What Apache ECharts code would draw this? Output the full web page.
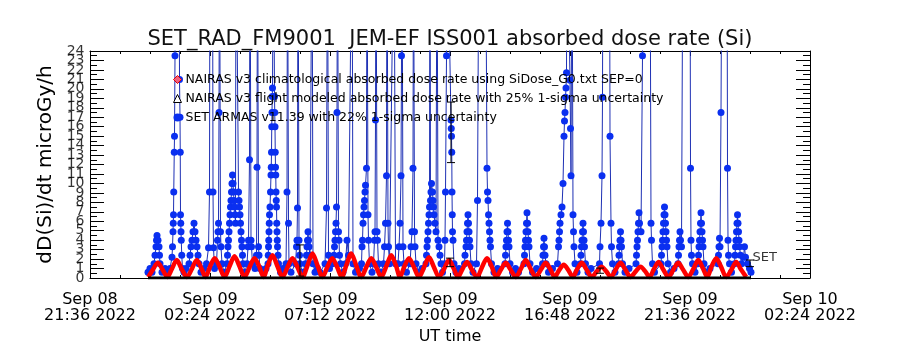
<!DOCTYPE html>
<html><head><meta charset="utf-8">
<script src="https://cdn.jsdelivr.net/npm/echarts@6/dist/echarts.min.js"></script>
<style>html,body{margin:0;padding:0;background:#fff}#c{width:900px;height:350px}</style>
</head><body><div id="c"></div>
<script>
// x values: hours since 2022-09-08 21:36 UT
const xTickLabels = ['Sep 08\n21:36 2022','Sep 09\n02:24 2022','Sep 09\n07:12 2022','Sep 09\n12:00 2022','Sep 09\n16:48 2022','Sep 09\n21:36 2022','Sep 10\n02:24 2022'];
const xMin = 0, xMax = 28.8, xStep = 4.8;
const yMin = 0, yMax = 24, yStep = 1;
const yTickValues = [0,1,2,3,4,5,6,7,8,9,10,11,12,13,14,15,16,17,18,19,20,21,22,23,24];

const nameClim = 'NAIRAS v3 climatological absorbed dose rate using SiDose_G0.txt SEP=0';
const nameFlight = 'NAIRAS v3 flight modeled absorbed dose rate with 25% 1-sigma uncertainty';
const nameArmas = 'SET ARMAS v11.39 with 22% 1-sigma uncertainty';

const nairasClim = [
[2.33,0.1],[2.52,0.9],[2.71,1.6],[2.90,0.9],
[3.09,0.1],[3.28,1.0],[3.47,1.9],[3.66,1.0],
[3.88,0.1],[4.08,1.0],[4.27,1.9],[4.46,1.0],
[4.62,0.1],[4.80,1.2],[4.99,2.1],[5.18,1.2],
[5.38,0.1],[5.59,1.3],[5.78,2.3],[5.97,1.3],
[6.18,0.1],[6.39,1.2],[6.58,2.1],[6.77,1.2],
[6.94,0.1],[7.11,1.3],[7.30,2.4],[7.49,1.3],
[7.70,0.1],[7.91,1.2],[8.10,2.1],[8.29,1.2],
[8.50,0.1],[8.71,1.4],[8.90,2.6],[9.09,1.4],
[9.30,0.1],[9.50,1.2],[9.69,2.1],[9.88,1.2],
[10.07,0.1],[10.26,1.4],[10.45,2.6],[10.64,1.4],
[10.85,0.1],[11.06,1.2],[11.25,2.1],[11.44,1.2],
[11.65,0.1],[11.86,1.3],[12.05,2.4],[12.24,1.3],
[12.40,0.1],[12.57,1.2],[12.76,2.1],[12.95,1.2],
[13.16,0.1],[13.37,1.2],[13.56,2.2],[13.75,1.2],
[13.96,0.1],[14.17,1.0],[14.36,1.9],[14.55,1.0],
[14.72,0.1],[14.89,0.9],[15.08,1.7],[15.27,0.9],
[15.48,0.1],[15.69,1.2],[15.88,2.1],[16.07,1.2],
[16.25,0.1],[16.44,0.9],[16.63,1.6],[16.82,0.9],
[17.03,0.1],[17.24,1.0],[17.43,1.9],[17.62,1.0],
[17.83,0.1],[18.04,0.9],[18.23,1.6],[18.42,0.9],
[18.59,0.1],[18.76,0.8],[18.95,1.4],[19.14,0.8],
[19.31,0.1],[19.48,0.9],[19.67,1.6],[19.86,0.9],
[20.07,0.1],[20.27,0.7],[20.46,1.2],[20.65,0.7],
[20.84,0.1],[21.03,0.9],[21.22,1.6],[21.41,0.9],
[21.62,0.1],[21.83,0.7],[22.02,1.2],[22.21,0.7],
[22.38,0.1],[22.55,0.9],[22.74,1.7],[22.93,0.9],
[23.14,0.1],[23.34,0.9],[23.53,1.6],[23.72,0.9],
[23.93,0.1],[24.14,1.0],[24.33,1.9],[24.52,1.0],
[24.69,0.1],[24.86,1.2],[25.05,2.1],[25.24,1.2],
[25.45,0.1],[25.66,0.9],[25.85,1.7],[26.04,0.9],
[26.25,0.1]
];

const nairasFlight = [[2.32,0],[26.44,0]];

const armas = [
[2.32,0.6],[2.40,1.0],[2.48,0.6],
[2.56,1.5],[2.60,2.4],[2.64,3.3],[2.66,4.0],[2.68,4.5],[2.72,4.0],[2.76,3.3],[2.78,2.4],[2.80,1.5],[2.88,0.6],[3.00,1.0],[3.12,0.6],[3.20,1.0],
[3.28,2.2],[3.30,3.3],[3.32,4.9],[3.33,5.8],[3.34,6.7],[3.35,9.1],[3.37,13.3],[3.38,15.0],[3.40,23.5],[3.44,40],[3.56,40],[3.58,21.0],[3.60,17.0],[3.61,13.3],[3.62,6.7],[3.63,5.8],[3.64,4.9],[3.65,4.0],[3.67,2.4],[3.70,1.0],[3.76,0.6],[3.84,1.0],
[3.96,1.5],[4.00,2.4],[4.04,3.3],[4.08,4.0],[4.12,4.9],[4.16,5.8],[4.20,4.9],[4.24,4.0],[4.28,3.3],[4.32,2.4],[4.36,1.5],[4.44,0.6],[4.56,1.0],[4.66,1.5],
[4.74,3.2],[4.78,9.1],[4.80,40],[4.90,40],[4.92,9.1],[4.94,3.2],[4.98,1.0],
[5.06,1.5],[5.10,4.0],[5.12,4.9],[5.14,5.8],[5.16,17.5],[5.18,40],[5.22,4.9],[5.24,3.3],[5.28,1.5],[5.36,0.6],
[5.48,1.5],[5.50,2.4],[5.52,3.3],[5.54,4.0],[5.56,4.9],[5.58,5.8],[5.60,6.7],[5.62,7.5],[5.64,8.2],[5.66,9.1],[5.68,10.0],[5.70,10.9],[5.72,10.0],[5.74,9.1],[5.76,8.2],[5.78,7.5],[5.80,6.7],[5.82,5.8],[5.84,40],[5.92,40],[5.94,9.1],[5.96,8.2],[5.98,7.5],[6.00,6.7],[6.02,5.8],[6.04,4.9],[6.06,4.0],[6.08,3.3],[6.10,2.4],[6.12,1.5],[6.20,0.6],
[6.28,1.5],[6.32,3.3],[6.34,4.0],[6.38,12.5],[6.40,40],[6.44,4.0],[6.46,3.3],[6.50,1.5],[6.60,1.0],[6.66,2.4],[6.68,11.7],[6.70,40],[6.74,3.3],[6.76,2.4],[6.80,1.0],[6.92,0.6],[7.04,1.0],
[7.12,1.5],[7.13,2.4],[7.14,3.3],[7.15,4.0],[7.16,4.9],[7.17,5.8],[7.18,6.7],[7.20,7.5],[7.22,9.1],[7.24,10.9],[7.25,11.7],[7.26,13.3],[7.27,16.0],[7.28,17.5],[7.29,19.2],[7.30,20.1],[7.34,40],[7.38,19.2],[7.39,17.5],[7.40,16.0],[7.41,13.3],[7.42,11.7],[7.43,10.9],[7.44,9.1],[7.45,8.2],[7.46,7.5],[7.47,5.8],[7.48,4.9],[7.49,4.0],[7.50,3.3],[7.52,2.4],[7.54,1.5],[7.62,0.6],[7.72,1.0],
[7.84,1.5],[7.88,9.1],[7.90,40],[7.94,5.8],[7.96,1.5],[8.04,0.6],
[8.22,1.5],[8.26,3.3],[8.28,4.0],[8.30,7.4],[8.32,40],[8.36,4.0],[8.38,2.4],[8.40,1.5],[8.50,0.6],
[8.62,1.5],[8.66,2.4],[8.68,3.3],[8.70,4.0],[8.72,4.9],[8.74,4.0],[8.76,3.3],[8.80,2.4],[8.88,40],[8.92,1.5],[9.00,0.6],[9.10,1.0],[9.20,0.6],
[9.40,1.5],[9.46,7.4],[9.50,40],[9.54,2.4],[9.58,1.0],[9.70,1.5],
[9.76,2.4],[9.78,3.3],[9.80,4.0],[9.82,4.9],[9.84,5.8],[9.86,7.5],[9.88,17.5],[9.90,40],[9.94,4.9],[9.96,4.0],[9.98,2.4],[10.02,1.5],[10.12,0.6],[10.22,1.5],[10.28,4.0],[10.34,2.4],
[10.48,40],[10.52,1.5],[10.62,0.6],[10.78,1.0],
[10.86,1.5],[10.88,3.3],[10.90,4.0],[10.92,5.8],[10.94,6.7],[10.96,7.5],[10.98,8.2],[11.00,9.1],[11.02,9.8],[11.06,11.6],[11.08,40],[11.12,6.7],[11.14,4.0],[11.18,1.5],[11.28,0.6],
[11.34,1.5],[11.38,4.0],[11.40,4.9],[11.42,16.7],[11.44,40],[11.48,4.9],[11.50,4.0],[11.54,1.5],[11.64,0.6],
[11.74,1.5],[11.78,3.3],[11.82,5.8],[11.86,10.8],[11.88,40],[11.92,5.8],[11.94,3.3],[11.98,1.5],
[12.16,40],[12.22,1.5],
[12.32,1.5],[12.36,3.3],[12.40,5.8],[12.44,10.8],[12.46,23.5],[12.48,40],[12.52,3.3],[12.56,1.5],[12.66,0.6],
[12.80,1.5],[12.84,3.3],[12.88,4.9],[12.92,11.6],[12.94,40],[12.98,4.9],[13.00,3.3],[13.04,1.5],[13.16,0.6],[13.28,1.0],
[13.44,1.5],[13.46,2.4],[13.48,3.3],[13.50,4.0],[13.52,4.9],[13.54,5.8],[13.56,6.7],[13.58,7.5],[13.60,40],[13.62,8.2],[13.64,9.1],[13.66,10.0],[13.70,9.1],[13.72,8.2],[13.74,7.5],[13.76,6.7],[13.80,5.8],[13.84,4.9],[13.88,40],[13.92,4.0],[13.96,3.3],[14.00,2.4],[14.04,1.5],[14.10,0.6],
[14.18,1.5],[14.20,4.0],[14.22,9.1],[14.26,23.5],[14.28,40],[14.44,16.7],[14.45,15.8],[14.46,15.0],[14.47,13.3],[14.48,9.1],[14.49,6.7],[14.50,4.9],[14.52,4.0],[14.56,1.5],[14.64,0.6],[14.76,1.0],
[14.98,1.5],[15.00,2.4],[15.04,3.3],[15.06,4.0],[15.08,4.9],[15.10,5.8],[15.12,6.7],[15.14,5.8],[15.16,4.9],[15.18,4.0],[15.20,3.3],[15.24,1.5],[15.32,0.6],
[15.46,1.5],[15.50,8.2],[15.56,40],[15.82,40],[15.88,11.6],[15.90,9.1],[15.92,8.2],[15.94,6.7],[15.96,5.8],[15.98,4.9],[16.00,4.0],[16.02,3.3],[16.06,1.5],[16.16,0.6],[16.30,1.0],
[16.60,1.5],[16.62,2.4],[16.64,3.3],[16.66,4.0],[16.68,4.9],[16.70,5.8],[16.72,4.9],[16.74,4.0],[16.76,3.3],[16.80,1.5],[16.90,0.6],[17.02,1.0],[17.14,0.6],
[17.36,1.5],[17.38,2.4],[17.40,3.3],[17.42,4.0],[17.44,4.9],[17.46,5.8],[17.48,6.9],[17.50,5.8],[17.52,4.9],[17.54,4.0],[17.56,3.3],[17.60,1.5],[17.70,0.6],[17.86,1.0],
[18.10,1.5],[18.12,2.4],[18.14,3.3],[18.16,4.2],[18.18,3.3],[18.20,2.4],[18.24,1.5],[18.34,0.6],[18.50,1.0],
[18.70,1.5],[18.74,3.3],[18.76,4.0],[18.78,4.9],[18.80,5.8],[18.84,6.7],[18.88,7.5],[18.92,10.0],[18.96,15.0],[18.98,16.6],[19.00,17.5],[19.02,19.1],[19.04,20.1],[19.06,21.7],[19.08,40],[19.20,20.9],[19.22,15.8],[19.24,10.8],[19.28,40],[19.32,6.7],[19.34,4.9],[19.36,3.3],[19.40,1.5],[19.48,0.6],
[19.62,1.5],[19.64,2.4],[19.66,3.3],[19.68,4.0],[19.70,4.9],[19.72,5.8],[19.74,4.9],[19.76,4.0],[19.78,3.3],[19.82,1.5],[19.92,0.6],[20.04,1.0],
[20.38,1.5],[20.40,3.3],[20.44,5.8],[20.48,10.8],[20.50,19.1],[20.52,40],[20.78,40],[20.80,15.0],[20.84,5.8],[20.86,3.3],[20.90,1.5],[21.00,0.6],
[21.14,1.5],[21.16,2.4],[21.18,3.3],[21.20,4.0],[21.22,4.9],[21.24,4.0],[21.26,3.3],[21.30,1.5],[21.40,0.6],[21.56,1.0],
[21.84,1.5],[21.86,2.4],[21.88,3.3],[21.90,4.0],[21.92,4.9],[21.94,5.8],[21.96,6.9],[21.98,5.8],[22.04,4.9],[22.10,23.5],[22.12,40],[22.40,40],[22.44,5.8],[22.46,4.0],[22.50,1.5],[22.58,0.6],
[22.84,1.5],[22.86,2.4],[22.88,3.3],[22.90,4.0],[22.92,4.9],[22.94,5.8],[22.96,6.7],[22.98,7.5],[23.00,6.7],[23.02,5.8],[23.04,4.9],[23.06,4.0],[23.08,3.3],[23.12,1.5],[23.22,0.6],[23.36,1.0],
[23.52,1.5],[23.54,2.4],[23.56,3.3],[23.58,4.0],[23.60,4.9],[23.62,4.0],[23.66,3.3],[23.72,40],[24.00,40],[24.02,11.6],[24.04,4.0],[24.06,2.4],[24.10,1.5],[24.20,0.6],
[24.32,1.5],[24.34,2.4],[24.36,3.3],[24.38,4.0],[24.40,4.9],[24.42,5.8],[24.44,6.9],[24.46,5.8],[24.48,4.9],[24.50,4.0],[24.52,3.3],[24.56,1.5],[24.66,0.6],[24.80,1.0],
[25.12,1.5],[25.14,2.4],[25.16,3.3],[25.18,4.2],[25.20,3.3],[25.24,17.5],[25.28,40],[25.48,40],[25.50,11.6],[25.52,4.0],[25.54,2.4],[25.58,1.5],[25.66,0.6],
[25.78,1.5],[25.80,2.4],[25.82,3.3],[25.84,4.0],[25.86,4.9],[25.88,5.8],[25.90,6.7],[25.92,5.8],[25.94,4.9],[25.96,4.0],[25.98,3.3],[26.02,2.4],[26.06,1.5],[26.14,2.2],[26.18,3.3],[26.22,2.2],[26.30,1.5],[26.38,1.0],[26.44,0.6]
];

// error bars: [time, low, high]
const armasErrors = [[8.40,0.2,3.5],[14.40,1.2,2.1],[14.44,12.2,18.6],[20.40,0.5,1.05],[26.40,1.2,1.9]];
const setLabelPoint = [[26.44,2.2]];

const FONT = 'DejaVu Sans';
const chart = echarts.init(document.getElementById('c'), null, {renderer:'canvas'});
const xCommon = {type:'value', min:xMin, max:xMax, interval:xStep,
  axisLine:{show:true, onZero:false, lineStyle:{color:'#000', width:1}},
  splitLine:{show:false}, minorSplitLine:{show:false}};
const yCommon = {type:'value', min:yMin, max:yMax, interval:yStep,
  axisLine:{show:true, onZero:false, lineStyle:{color:'#000', width:1}},
  splitLine:{show:false}, minorSplitLine:{show:false}};

chart.setOption({
  animation:false,
  backgroundColor:'#fff',
  textStyle:{fontFamily:FONT},
  title:{text:'SET_RAD_FM9001  JEM-EF ISS001 absorbed dose rate (Si)', left:'center', top:24,
    textStyle:{fontFamily:FONT, fontSize:21, fontWeight:'normal', color:'#111'}},
  legend:{orient:'vertical', left:173, top:73, padding:0, itemWidth:8, itemHeight:8, itemGap:6,
    selectedMode:false, textStyle:{fontFamily:FONT, fontSize:12.5, color:'#000', padding:[0,0,0,-1]},
    data:[
      {name:nameClim, icon:'diamond', itemStyle:{color:'#f06080', borderColor:'#e00000', borderWidth:1}},
      {name:nameFlight, icon:'triangle', itemStyle:{color:'#fff', borderColor:'#000', borderWidth:1}},
      {name:nameArmas, icon:'circle', itemStyle:{color:'#0a2ff0', borderWidth:0}}
    ]},
  grid:{left:90, right:90, top:51, bottom:72, containLabel:false},
  xAxis:[
    Object.assign({}, xCommon, {position:'bottom', name:'UT time', nameLocation:'middle', nameGap:41,
      nameTextStyle:{fontFamily:FONT, fontSize:16, color:'#000'},
      axisTick:{show:true, inside:true, length:5, lineStyle:{color:'#000'}},
      minorTick:{show:true, splitNumber:4, length:3, lineStyle:{color:'#000'}},
      axisLabel:{show:true, fontFamily:FONT, fontSize:16, lineHeight:16, color:'#000', margin:14, hideOverlap:false,
        showMinLabel:true, showMaxLabel:true,
        formatter:v=>xTickLabels[Math.round((v-xMin)/xStep)] || ''}}),
    Object.assign({}, xCommon, {position:'top',
      axisTick:{show:true, inside:true, length:5, lineStyle:{color:'#000'}},
      minorTick:{show:true, splitNumber:4, length:3, lineStyle:{color:'#000'}},
      axisLabel:{show:false}})
  ],
  yAxis:[
    Object.assign({}, yCommon, {position:'left', name:'dD(Si)/dt microGy/h', nameLocation:'middle', nameGap:34,
      nameTextStyle:{fontFamily:FONT, fontSize:20, color:'#000'},
      axisTick:{show:true, inside:true, length:14, lineStyle:{color:'#000'}},
      minorTick:{show:true, splitNumber:2, length:7, lineStyle:{color:'#000'}},
      axisLabel:{show:false}}),
    Object.assign({}, yCommon, {position:'right',
      axisTick:{show:true, inside:true, length:14, lineStyle:{color:'#000'}},
      minorTick:{show:true, splitNumber:2, length:7, lineStyle:{color:'#000'}},
      axisLabel:{show:false}})
  ],
  series:[
    {name:nameArmas, type:'line', data:armas, xAxisIndex:0, yAxisIndex:0, clip:true, z:2,
      symbol:'circle', symbolSize:7, showSymbol:true,
      itemStyle:{color:'#0a2ff0', borderWidth:0}, lineStyle:{color:'#1e30b4', width:1}, emphasis:{disabled:true}},
    {name:nameClim, type:'line', data:nairasClim, clip:true, z:3, symbol:'none', smooth:0.3,
      itemStyle:{color:'#ff0000'}, lineStyle:{color:'#ff0000', width:4.5}, emphasis:{disabled:true}},
    {name:nameFlight, type:'line', data:nairasFlight, clip:true, z:4, symbol:'none',
      itemStyle:{color:'#000'}, lineStyle:{color:'#000', width:3}, emphasis:{disabled:true}},
    {name:'errors', type:'custom', data:armasErrors, z:5, clip:true,
      renderItem:(params, api)=>{
        const lo = api.coord([api.value(0), api.value(1)]);
        const hi = api.coord([api.value(0), api.value(2)]);
        const w = 4, st = {stroke:'#000', lineWidth:1};
        return {type:'group', children:[
          {type:'line', shape:{x1:lo[0], y1:lo[1], x2:hi[0], y2:hi[1]}, style:st},
          {type:'line', shape:{x1:lo[0]-w, y1:lo[1], x2:lo[0]+w, y2:lo[1]}, style:st},
          {type:'line', shape:{x1:hi[0]-w, y1:hi[1], x2:hi[0]+w, y2:hi[1]}, style:st}
        ]};
      }},
    {name:'setlabel', type:'scatter', data:setLabelPoint, symbolSize:1, itemStyle:{color:'rgba(0,0,0,0)'}, z:6,
      label:{show:true, formatter:'SET', position:'right', distance:1, fontFamily:FONT, fontSize:13, color:'#000'}},
    {name:'ylabels', type:'scatter', data:yTickValues.map(v=>[xMin, v]), symbolSize:1, clip:false, silent:true,
      itemStyle:{color:'rgba(0,0,0,0)'}, z:6, labelLayout:{hideOverlap:false},
      label:{show:true, formatter:p=>String(p.value[1]), position:'left', distance:5, fontFamily:FONT, fontSize:14, color:'#000'}}
  ]
});
</script></body></html>
